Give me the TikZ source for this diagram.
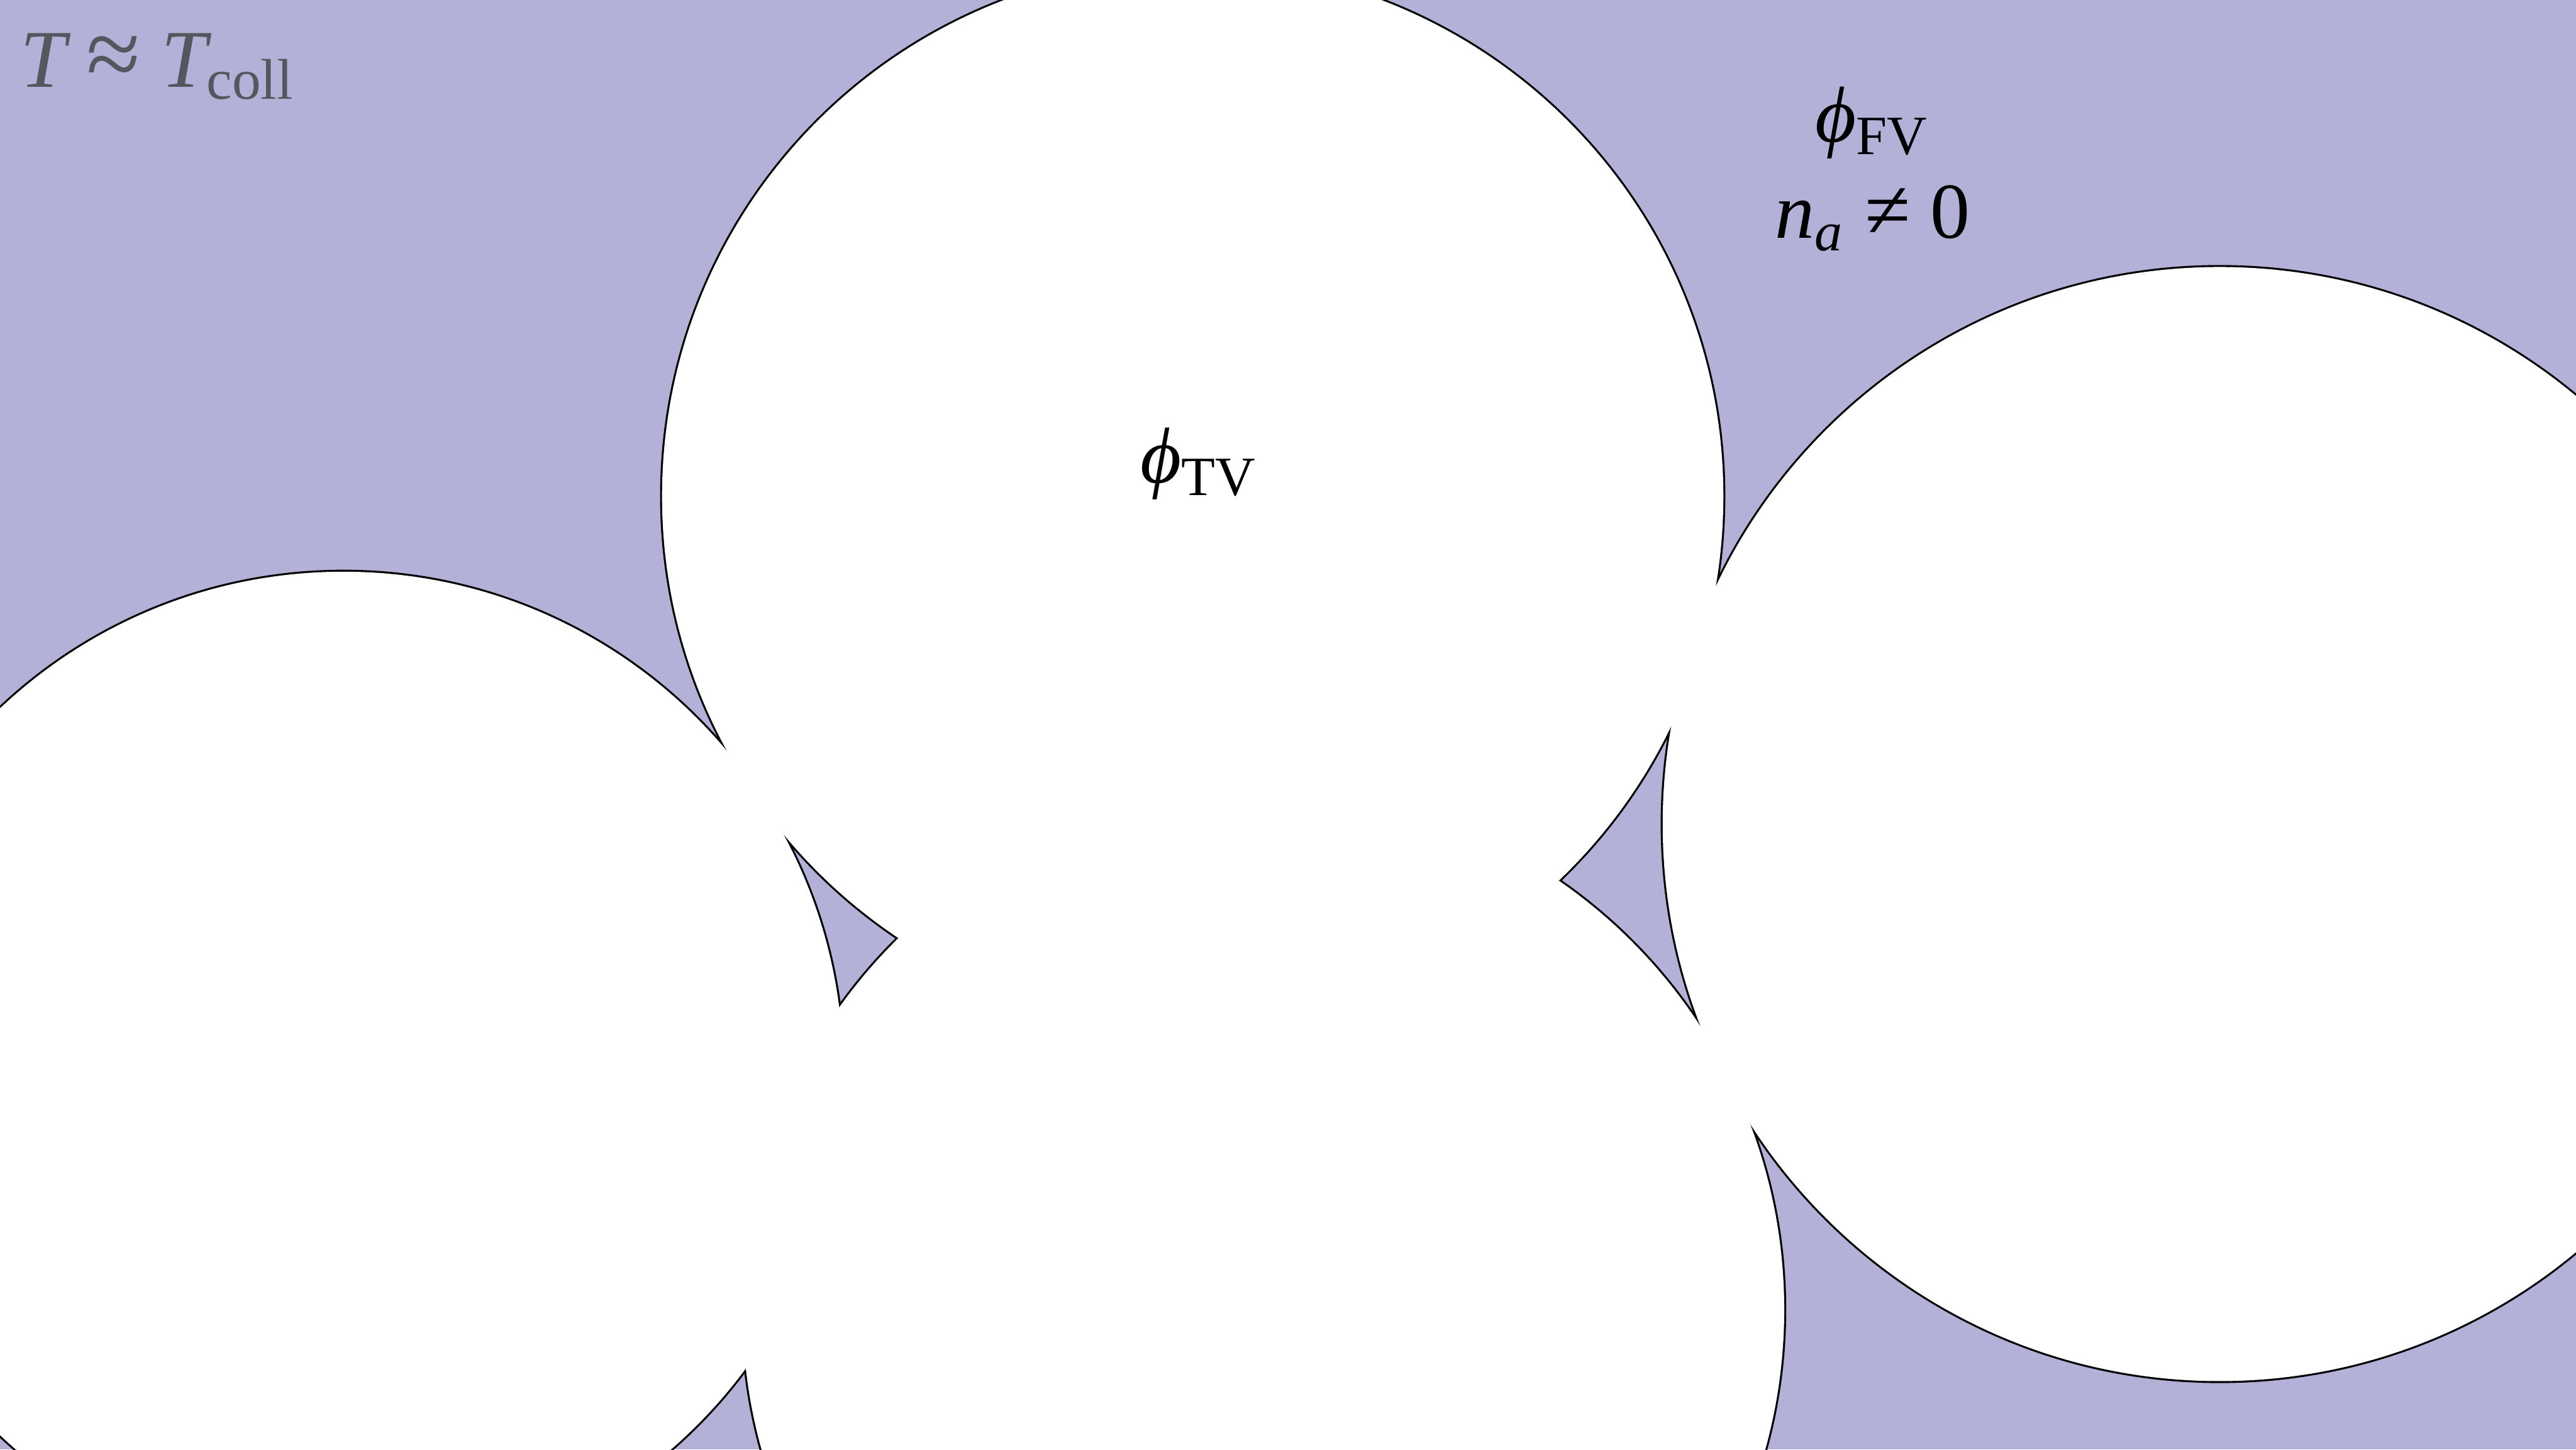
\documentclass[tikz,border=0pt]{standalone}
\usepackage{fontspec}
\setmainfont{Liberation Serif}
\usetikzlibrary{positioning}
\definecolor{fvcol}{RGB}{180,177,216}
\definecolor{labgray}{RGB}{83,87,94}

\begin{document}
\begin{tikzpicture}[wall/.style={draw=black,line width=0.7pt},inside/.style={fill=white},lab/.style={font=\fontsize{14}{16}\selectfont,inner sep=0pt}]
\useasboundingbox (0,0) rectangle (16,9);
\clip (0,0) rectangle (16,9);
\fill[fvcol] (0,0) rectangle (16,9);
% bubble centres
\coordinate (b1) at (7.408,5.918);
\coordinate (b2) at (13.786,3.883);
\coordinate (b3) at (7.847,0.867);
\coordinate (b4) at (2.133,2.345);
% walls first, then white insides over them so only the outer edge stays
\foreach \b/\r in {b1/3.296,b2/3.459,b3/3.235,b4/3.105}
  \draw[wall] (\b) circle (\r);
\foreach \b/\r in {b1/3.296,b2/3.459,b3/3.235,b4/3.105}
  \fill[inside] (\b) circle (\r);
\node[lab] (tv) at (7.45,6.12) {{\itshape ϕ}\textsubscript{TV}};
\node[lab,align=center] (fv) at (11.63,7.95) {{\itshape ϕ}\textsubscript{FV}\\[1pt] {\itshape n}\textsubscript{\itshape a} \scalebox{1.05}{≠} 0};
\node[lab,font=\fontsize{14.5}{16}\selectfont,text=labgray,anchor=base west] (temp) at (0.12,8.46) {{\itshape T} \scalebox{1.2}{≈} {\itshape T}\textsubscript{coll}};
\end{tikzpicture}
\end{document}
